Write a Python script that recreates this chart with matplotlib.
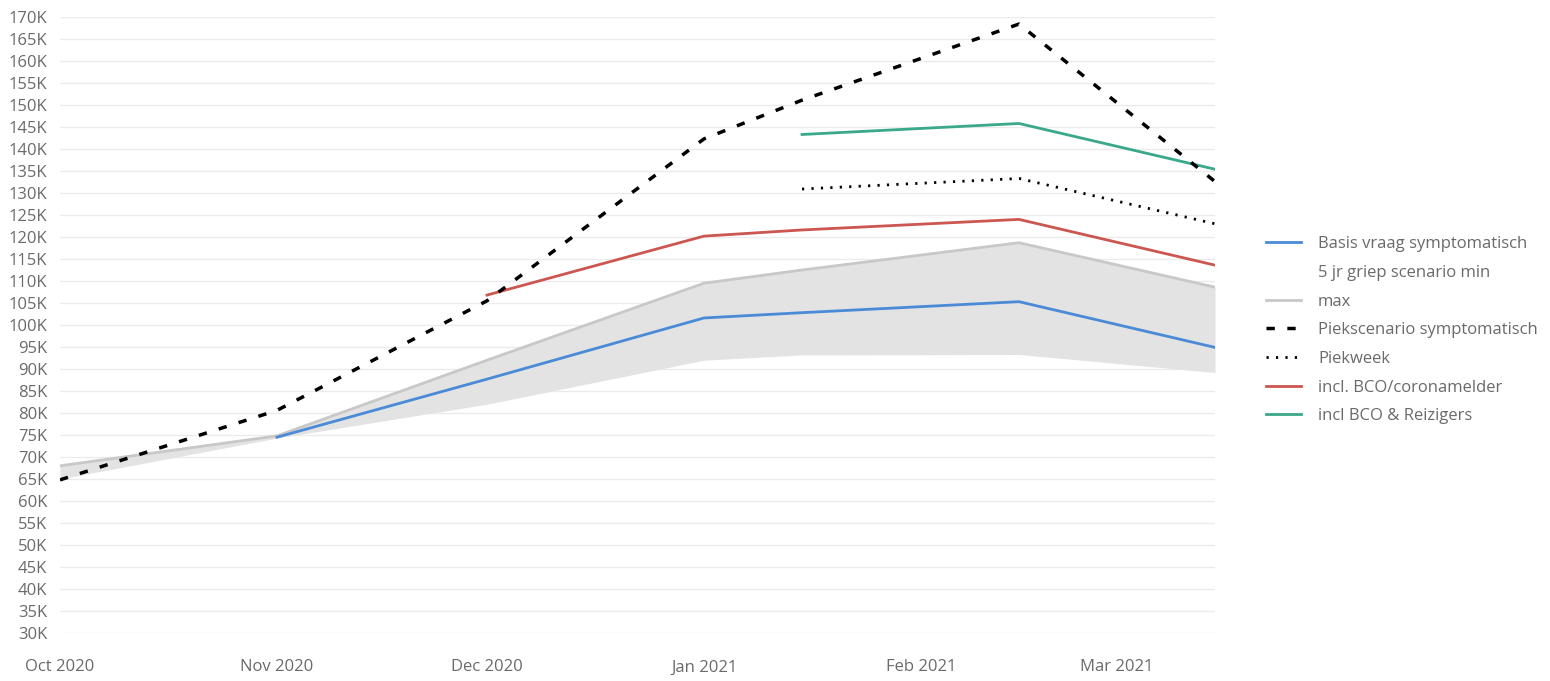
import matplotlib
matplotlib.use("Agg")
import matplotlib.pyplot as plt
from matplotlib.ticker import FuncFormatter, MultipleLocator
import numpy as np

dates = np.array(["2020-10-01", "2020-11-01", "2020-12-01", "2021-01-01",
                  "2021-01-15", "2021-02-15", "2021-03-15"], dtype="datetime64[D]")

basis = [None, 74.5, 87.7, 101.6, 102.8, 105.3, 94.9]
griep_min = [65.0, 74.3, 82.0, 92.0, 93.2, 93.3, 89.2]
griep_max = [68.0, 74.8, 92.0, 109.5, 112.5, 118.7, 108.6]
piekscenario = [64.8, 80.6, 105.5, 142.3, 151.1, 168.4, 132.6]
piekweek = [None, None, None, None, 130.9, 133.3, 123.0]
incl_bco = [None, None, 106.8, 120.2, 121.6, 124.0, 113.6]
incl_reizigers = [None, None, None, None, 143.3, 145.8, 135.4]

x_ticks = np.array(["2020-10-01", "2020-11-01", "2020-12-01", "2021-01-01",
                    "2021-02-01", "2021-03-01"], dtype="datetime64[D]")
x_labels = ["Oct 2020", "Nov 2020", "Dec 2020", "Jan 2021", "Feb 2021", "Mar 2021"]


def arr(values):
    return np.array([np.nan if v is None else v for v in values]) * 1000


plt.rcParams['font.family'] = ['Open Sans', 'DejaVu Sans']
text_grey = '#6a6a6a'

fig = plt.figure(figsize=(15.5, 6.81), dpi=100)
ax = fig.add_axes([60 / 1550, 1 - 633 / 681, (1215 - 60) / 1550, (633 - 17) / 681])

ax.fill_between(dates, arr(griep_min), arr(griep_max), color='#e3e3e3', lw=0, zorder=1)
ax.plot(dates, arr(basis), color='#4a8ad6', lw=2, label='Basis vraag symptomatisch', zorder=3)
ax.plot(dates, arr(griep_min), color='none', lw=2, label='5 jr griep scenario min')
ax.plot(dates, arr(griep_max), color='#c8c8c8', lw=2, label='max', zorder=2)
ax.plot(dates, arr(piekscenario), color='black', lw=2.5, dashes=(2.4, 3.6),
        label='Piekscenario symptomatisch', zorder=4)
ax.plot(dates, arr(piekweek), color='black', lw=2, dashes=(0.8, 2.6),
        label='Piekweek', zorder=4)
ax.plot(dates, arr(incl_bco), color='#cc5650', lw=2, label='incl. BCO/coronamelder', zorder=3)
ax.plot(dates, arr(incl_reizigers), color='#3aa88a', lw=2, label='incl BCO & Reizigers', zorder=3)

ax.set_xlim(dates[0], dates[-1])
ax.set_ylim(30000, 170000)
ax.yaxis.set_major_locator(MultipleLocator(5000))
ax.yaxis.set_major_formatter(FuncFormatter(lambda v, p: f"{int(v / 1000)}K"))
ax.set_xticks(x_ticks)
ax.set_xticklabels(x_labels)

ax.grid(axis='y', color='#ebebeb', lw=1)
ax.set_axisbelow(True)
for s in ax.spines.values():
    s.set_visible(False)
ax.tick_params(axis='both', length=0, labelsize=12, labelcolor=text_grey)
ax.tick_params(axis='y', pad=9)
ax.tick_params(axis='x', pad=19)

fig.legend(loc='upper left', bbox_to_anchor=(1258 / 1550, 1 - 228 / 681), frameon=False,
           fontsize=12, labelcolor=text_grey, handlelength=2.1, handletextpad=1.0,
           labelspacing=0.76, borderpad=0)

fig.savefig('out.png', dpi=100)
